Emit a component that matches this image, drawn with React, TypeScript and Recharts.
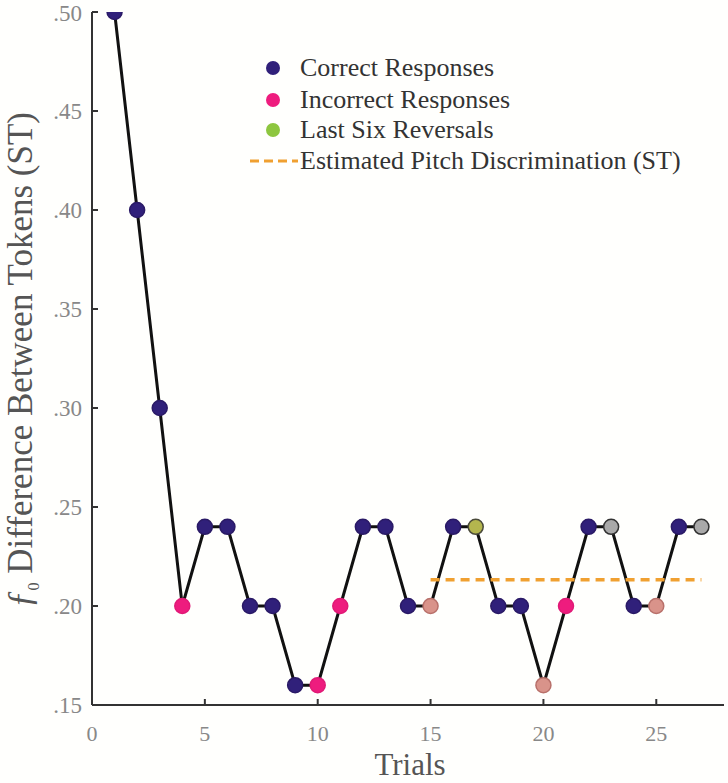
import React from 'react';
import { ComposedChart, Line, XAxis, YAxis } from 'recharts';

const trials = [1, 2, 3, 4, 5, 6, 7, 8, 9, 10, 11, 12, 13, 14, 15, 16, 17, 18, 19, 20, 21, 22, 23, 24, 25, 26, 27];
const values = [0.50, 0.40, 0.30, 0.20, 0.24, 0.24, 0.20, 0.20, 0.16, 0.16, 0.20, 0.24, 0.24, 0.20, 0.20, 0.24, 0.24, 0.20, 0.20, 0.16, 0.20, 0.24, 0.24, 0.20, 0.20, 0.24, 0.24];
// c = correct, i = incorrect, ir = incorrect + reversal, cr = correct + reversal (olive), cg = correct + reversal (grey)
const kinds = ['c', 'c', 'c', 'i', 'c', 'c', 'c', 'c', 'c', 'i', 'i', 'c', 'c', 'c', 'ir', 'c', 'cr', 'c', 'c', 'ir', 'i', 'c', 'cg', 'c', 'ir', 'c', 'cg'];
const xTicks = [0, 5, 10, 15, 20, 25];
const yTicks = [0.15, 0.2, 0.25, 0.3, 0.35, 0.4, 0.45, 0.5];
const yTickLabels = ['.15', '.20', '.25', '.30', '.35', '.40', '.45', '.50'];
const thresholdTrials = [15, 27];
const thresholdValue = 0.2133;
const legendLabels = ['Correct Responses', 'Incorrect Responses', 'Last Six Reversals', 'Estimated Pitch Discrimination (ST)'];

const FONT = 'Liberation Serif';

const kindStyle: Record<string, { fill: string; stroke: string }> = {
  c: { fill: '#30207a', stroke: '#2a1a66' },
  i: { fill: '#ee1c7e', stroke: '#e01a76' },
  ir: { fill: '#d9938a', stroke: '#b8706a' },
  cr: { fill: '#b4b64e', stroke: '#4a4a3a' },
  cg: { fill: '#a9a9a9', stroke: '#333333' },
};

const data = trials.map((t, i) => ({ trial: t, value: values[i], kind: kinds[i] }));
const threshData = thresholdTrials.map((t) => ({ trial: t, value: thresholdValue }));

const Dot = (props: any) => {
  const { cx, cy, payload, index } = props;
  const s = kindStyle[payload.kind] || kindStyle.c;
  return <circle key={`d${index}`} cx={cx} cy={cy} r={7.5} fill={s.fill} stroke={s.stroke} strokeWidth={1.5} />;
};

const YLabel = () => (
  <text
    x={32}
    y={360}
    transform="rotate(-90, 32, 360)"
    textAnchor="middle"
    style={{ fontFamily: FONT }}
    fontSize={35}
    fill="#555"
  >
    <tspan fontStyle="italic">ƒ</tspan>
    <tspan fontSize={16} dy={7}>0</tspan>
    <tspan dy={-7}> Difference Between Tokens (ST)</tspan>
  </text>
);

const XLabel = () => (
  <text x={410} y={775} textAnchor="middle" style={{ fontFamily: FONT }} fontSize={31} fill="#555">
    Trials
  </text>
);

const LegendBox = () => {
  const rows = [68, 100, 130, 161];
  const dotColors = [kindStyle.c.fill, kindStyle.i.fill, '#8dc63f'];
  return (
    <svg width={488} height={170} style={{ position: 'absolute', left: 240, top: 30 }}>
      {legendLabels.map((lab, i) => {
        const y = rows[i] - 30;
        return (
          <g key={lab}>
            {i < 3 ? (
              <circle cx={33} cy={y} r={7} fill={dotColors[i]} />
            ) : (
              <line x1={10} x2={58} y1={y} y2={y} stroke="#f0a030" strokeWidth={3} strokeDasharray="9 5" />
            )}
            <text x={60} y={y + 8} style={{ fontFamily: FONT }} fontSize={26} fill="#333">
              {lab}
            </text>
          </g>
        );
      })}
    </svg>
  );
};

export default function App() {
  return (
    <div style={{ position: 'absolute', left: 0, top: 0, width: 728, height: 783, background: '#fffffd', fontFamily: FONT }}>
      <ComposedChart width={728} height={783} data={data} margin={{ top: 12, right: 4, left: 0, bottom: 0 }}>
        <XAxis
          dataKey="trial"
          type="number"
          domain={[0, 28]}
          ticks={xTicks}
          height={78}
          allowDataOverflow
          stroke="#333"
          strokeWidth={2}
          tickSize={-6}
          tickMargin={26}
          tick={{ fontFamily: FONT, fontSize: 22, fill: '#888' }}
          label={<XLabel />}
        />
        <YAxis
          type="number"
          domain={[0.15, 0.5]}
          ticks={yTicks}
          width={92}
          allowDataOverflow
          stroke="#333"
          strokeWidth={2}
          tickSize={-6}
          tickMargin={16}
          tickFormatter={(v: number) => yTickLabels[yTicks.findIndex((t) => Math.abs(t - v) < 1e-6)] ?? ''}
          tick={{ fontFamily: FONT, fontSize: 23, fill: '#888' }}
          label={<YLabel />}
        />
        <Line
          dataKey="value"
          stroke="#111"
          strokeWidth={3}
          dot={<Dot />}
          activeDot={false}
          isAnimationActive={false}
        />
        <Line
          data={threshData}
          dataKey="value"
          stroke="#f0a030"
          strokeWidth={3.5}
          strokeDasharray="9 6"
          dot={false}
          activeDot={false}
          isAnimationActive={false}
        />
      </ComposedChart>
      <LegendBox />
    </div>
  );
}
